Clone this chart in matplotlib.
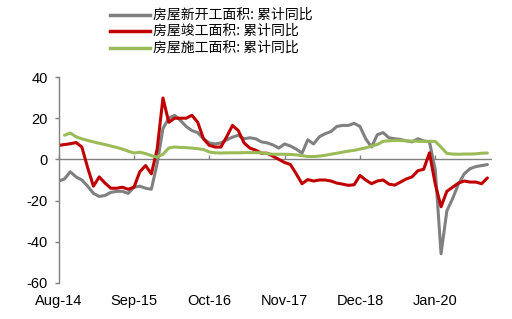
import matplotlib
matplotlib.use("Agg")
import matplotlib.pyplot as plt
from matplotlib.lines import Line2D

plt.rcParams['font.family'] = ['Liberation Sans', 'Noto Sans CJK SC', 'DejaVu Sans']

tick_labels = ["Aug-14", "Sep-15", "Oct-16", "Nov-17", "Dec-18", "Jan-20"]
tick_months = [0, 13, 26, 39, 52, 65]

series_names = ["房屋新开工面积: 累计同比", "房屋竣工面积: 累计同比", "房屋施工面积: 累计同比"]
series_colors = ['#808080', '#C00000', '#9BBB59']

new_start = [-10.5, -9.5, -6, -8.5, -10, -13, -16.5, -18, -17.5, -16,
             -15.5, -15.5, -16.5, -13.5, -13, -14, -14.5, -2, 15, 20,
             21.4, 19, 16, 14, 13, 10, 8, 7.5, 8, 9.5,
             10.8, 11.7, 10, 10.5, 10, 8.5, 8, 7, 5.5, 7.5,
             6.5, 5, 3, 9.5, 7.5, 11, 12.5, 13.5, 16, 16.5,
             16.5, 17.5, 16, 10, 6, 12, 13, 10.5, 10, 9.7,
             9, 8.5, 10, 9, 8.5, -5, -45.8, -25, -19, -12,
             -7, -4.5, -3.5, -3, -2.5]

completed = [6.8, 7.2, 7.6, 8.2, 6, -4, -13, -8.5, -11.5, -14,
             -14, -13.5, -14.5, -13.5, -6, -3, -7, 5, 29.8, 18,
             20, 20, 20, 21.4, 18, 10, 6.8, 6, 6, 11,
             16.5, 14, 8, 5.5, 4.5, 3, 3, 1.5, 0, -1.5,
             -2.5, -7, -11.8, -9.8, -10.5, -10, -10, -10.5, -11.5, -12,
             -12.6, -12.3, -7.8, -10, -11.8, -10.5, -10, -12, -12.5, -11,
             -9.5, -8.5, -5.5, -4.8, 3.2, -12, -23, -15.5, -13.5, -11.5,
             -10.5, -11, -11, -11.8, -9]

under_constr = [11.7, 12.8, 11, 10, 9.2, 8.5, 7.8, 7.2, 6.5,
                5.8, 5, 4, 3.1, 3.5, 2.8, 1.8, 1.1, 2.5, 5.5,
                6, 5.8, 5.7, 5.5, 5.2, 4.8, 3.6, 3.2, 3.1, 3.2,
                3.2, 3.2, 3.3, 3.3, 3.3, 3.2, 2.8, 2.5, 2.5, 2.5,
                2.4, 2.2, 1.8, 1.4, 1.4, 1.6, 2, 2.5, 3, 3.5,
                4, 4.4, 5, 5.6, 6.5, 7.2, 8.8, 9, 9.2, 9.2,
                9, 8.9, 8.8, 8.7, 8.8, 8.7, 6, 2.9, 2.6, 2.5,
                2.6, 2.6, 2.7, 3, 3.1]

x_new = list(range(len(new_start)))
x_comp = list(range(len(completed)))
x_uc = list(range(1, 1 + len(under_constr)))

W, H = 512, 319
fig = plt.figure(figsize=(W / 100, H / 100), dpi=100)
ax = fig.add_axes([0.1146, 0.1129, 0.8464, 0.6457])

ax.plot(x_new, new_start, color=series_colors[0], lw=2.2, solid_capstyle='round')
ax.plot(x_comp, completed, color=series_colors[1], lw=2.2, solid_capstyle='round')
ax.plot(x_uc, under_constr, color=series_colors[2], lw=2.2, solid_capstyle='round')

ax.set_xlim(0, 74.8)
ax.set_ylim(-60, 40)
ax.set_yticks([-60, -40, -20, 0, 20, 40])
ax.set_yticklabels(["-60", "-40", "-20", "0", "20", "40"])
ax.axhline(0, color='#808080', lw=1.0, zorder=0)

for s in ['top', 'right', 'bottom']:
    ax.spines[s].set_visible(False)
ax.spines['left'].set_color('#808080')
ax.spines['left'].set_linewidth(1.0)
ax.tick_params(axis='y', direction='out', length=3, color='#808080', width=1.0,
               labelsize=10.5, pad=5)

ax.set_xticks(tick_months)
ax.set_xticklabels(tick_labels)
ax.tick_params(axis='x', length=0, labelsize=10.5, pad=8)

sec = ax.secondary_xaxis(0.6)
sec.set_xticks(tick_months)
sec.tick_params(axis='x', direction='out', length=3, color='#808080', width=1.0,
                labelbottom=False, labeltop=False)
sec.spines['bottom'].set_visible(False)
sec.spines['top'].set_visible(False)

# legend drawn manually (rows tightly spaced as in the reference)
row_y = [14.5, 31, 47.5]
for name, col, yp in zip(series_names, series_colors, row_y):
    yf = 1 - yp / H
    fig.add_artist(Line2D([110 / W, 150 / W], [yf, yf], color=col, lw=2.5,
                          transform=fig.transFigure))
    fig.text(153 / W, yf, name, va='center', ha='left', fontsize=10,
             family=['Noto Sans CJK SC', 'DejaVu Sans'])

fig.savefig("out.png", dpi=100)
